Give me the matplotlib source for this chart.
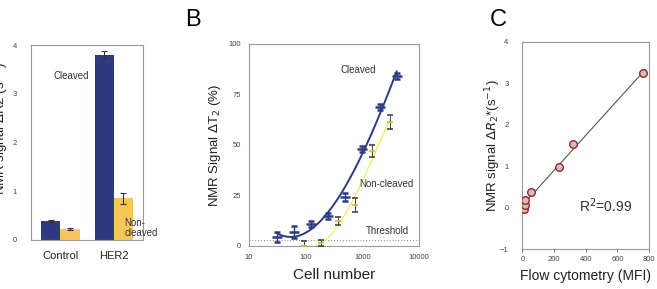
import numpy as np
import matplotlib
matplotlib.use("Agg")
import matplotlib.pyplot as plt

plt.rcParams["font.family"] = ["Liberation Sans", "DejaVu Sans"]

# panel A data
groups = ["Control", "HER2"]
cleaved_bar = [0.38, 3.80]
cleaved_bar_err = [0.02, 0.07]
noncleaved_bar = [0.23, 0.85]
noncleaved_bar_err = [0.02, 0.12]

# panel B data
cells_cleaved = [31.25, 62.5, 125, 250, 500, 1000, 2000, 4000]
signal_cleaved = [4.5, 7.0, 10.8, 15.0, 24.0, 48.0, 69.0, 84.0]
err_cleaved = [2.5, 3.0, 1.5, 1.5, 2.0, 1.5, 1.5, 1.5]
cells_noncleaved = [93.75, 187.5, 375, 750, 1500, 3000]
signal_noncleaved = [0.0, 1.6, 12.4, 20.3, 46.8, 61.5]
err_noncleaved = [2.5, 1.5, 2.0, 3.5, 3.0, 3.5]
threshold = 3.0

# panel C data
mfi = [8, 14, 14, 55, 233, 319, 763]
dr2 = [-0.04, 0.06, 0.18, 0.38, 0.97, 1.53, 3.24]

blue = "#2d3a80"
yellow = "#f7c55c"
yline = "#f2ee6a"
grey = "#999999"

fig = plt.figure(figsize=(6.57, 2.89), dpi=100)

def style(ax):
    for s in ax.spines.values():
        s.set_color(grey)
        s.set_linewidth(0.8)
    ax.tick_params(labelsize=5.5, colors="#444444", length=2, width=0.5)

### panel A ###
axA = fig.add_axes([0.047, 0.170, 0.171, 0.674])
x = np.arange(len(groups))
w = 0.36
axA.bar(x - w / 2, cleaved_bar, w, color=blue, yerr=cleaved_bar_err,
        error_kw=dict(ecolor="#333333", elinewidth=0.8, capsize=2, capthick=0.8))
axA.bar(x + w / 2, noncleaved_bar, w, color=yellow, yerr=noncleaved_bar_err,
        error_kw=dict(ecolor="#333333", elinewidth=0.8, capsize=2, capthick=0.8))
axA.set_xlim(-0.55, 1.55)
axA.set_ylim(0, 4)
axA.set_yticks([0, 1, 2, 3, 4])
axA.set_xticks(x)
axA.set_xticklabels(groups)
style(axA)
axA.tick_params(axis="x", labelsize=8, length=0, pad=8, colors="#222222")
axA.tick_params(axis="y", length=0, pad=10)
axA.text(0.20, 3.37, "Cleaved", fontsize=7, color="#333333", ha="center", va="center")
axA.text(1.20, 0.24, "Non-\ncleaved", fontsize=7, color="#333333", ha="left",
         va="center", linespacing=1.0)
# label is partly cut off at the left edge, as in the source figure
axA.set_ylabel(r"NMR signal $\Delta$R2 (s$^{-1}$)", fontsize=9.5, color="#222222")
axA.yaxis.set_label_coords(-0.18, 0.57)

fig.text(0.294, 0.93, "B", fontsize=17, ha="center", va="center")
fig.text(0.758, 0.93, "C", fontsize=17, ha="center", va="center")

### panel B ###
axB = fig.add_axes([0.379, 0.149, 0.259, 0.699])
axB.set_xscale("log")
axB.set_xlim(10, 10000)
axB.set_ylim(0, 100)
axB.axhline(threshold, color="#888888", lw=0.7, ls=(0, (1, 2)))

lc = np.log10(cells_cleaved)
pc = np.polyfit(lc, signal_cleaved, 3)
xs = np.linspace(lc[0], lc[-1], 200)
axB.plot(10 ** xs, np.polyval(pc, xs), color=blue, lw=1.4, zorder=3)
ln = np.log10(cells_noncleaved)
pn = np.polyfit(ln, signal_noncleaved, 3)
xs = np.linspace(ln[0], ln[-1], 200)
axB.plot(10 ** xs, np.polyval(pn, xs), color=yline, lw=1.0, zorder=2)

axB.errorbar(cells_cleaved, signal_cleaved, yerr=err_cleaved, fmt="_", color=blue,
             ms=7, mew=1.8, elinewidth=1.0, capsize=2, zorder=4)
axB.errorbar(cells_noncleaved, signal_noncleaved, yerr=err_noncleaved, fmt="_",
             color="#c9b84a", ecolor="#444444", ms=5, mew=1.2, elinewidth=0.7,
             capsize=2, zorder=4)
axB.set_yticks([0, 25, 50, 75, 100])
axB.set_xticks([10, 100, 1000, 10000])
axB.set_xticklabels(["10", "100", "1000", "10000"])
axB.minorticks_off()
style(axB)
axB.tick_params(length=0, pad=6)
axB.text(830, 87, "Cleaved", fontsize=7, color="#333333", ha="center", va="center")
axB.text(2630, 30.5, "Non-cleaved", fontsize=7, color="#333333", ha="center", va="center")
axB.text(2800, 7.5, "Threshold", fontsize=7, color="#333333", ha="center", va="center")
axB.set_xlabel("Cell number", fontsize=11, color="#222222", labelpad=5)
axB.set_ylabel(r"NMR Signal $\Delta$T$_2$ (%)", fontsize=9.5, color="#222222")
axB.yaxis.set_label_coords(-0.15, 0.5)

### panel C ###
axC = fig.add_axes([0.795, 0.138, 0.193, 0.717])
axC.set_xlim(0, 800)
axC.set_ylim(-1, 4)
fit = np.polyfit(mfi, dr2, 1)
xl = np.array([0, 775])
axC.plot(xl, np.polyval(fit, xl), color="#555555", lw=0.8, zorder=2)
axC.scatter(mfi, dr2, s=30, facecolor="#dcb8b8", edgecolor="#8e2b2b", lw=1.0, zorder=3)
axC.set_xticks([0, 200, 400, 600, 800])
axC.set_yticks([-1, 0, 1, 2, 3, 4])
style(axC)
axC.tick_params(axis="y", length=0, pad=10)
axC.tick_params(axis="x", length=2, pad=3)
axC.text(0.66, 0.21, r"R$^2$=0.99", transform=axC.transAxes, fontsize=10,
         color="#333333", ha="center", va="center")
axC.set_xlabel("Flow cytometry (MFI)", fontsize=10, color="#222222", labelpad=4)
axC.set_ylabel(r"NMR signal $\Delta R_2$*(s$^{-1}$)", fontsize=9.5, color="#222222")
axC.yaxis.set_label_coords(-0.15, 0.5)

fig.savefig("out.png", dpi=100)
